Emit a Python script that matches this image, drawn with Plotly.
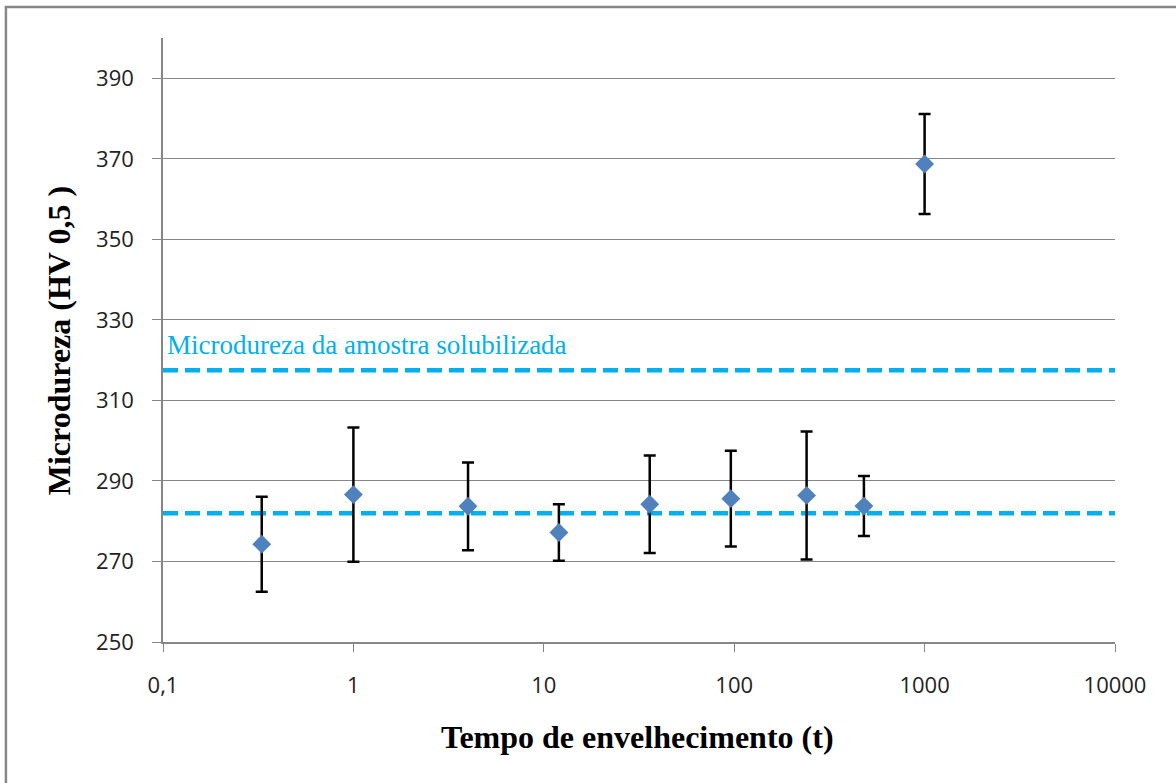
import plotly.graph_objects as go

# Data
tempo = [0.33, 1, 4, 12, 36, 96, 240, 480, 1000]
microdureza = [274.3, 286.6, 283.7, 277.2, 284.2, 285.6, 286.4, 283.75, 368.7]
erro = [11.8, 16.7, 10.9, 7.0, 12.1, 11.9, 15.9, 7.45, 12.4]

ref_x = [0.1, 10000]
ref_media = 282.0
ref_solubilizada = 317.5

x_tickvals = [0.1, 1, 10, 100, 1000, 10000]
x_ticktext = ["0,1", "1", "10", "100", "1000", "10000"]

serif = "Liberation Serif, Times New Roman, serif"
sans = "Open Sans, DejaVu Sans, sans-serif"
axis_gray = "#868686"
cyan = "#00B0F0"

fig = go.Figure()

for yv in [ref_media, ref_solubilizada]:
    fig.add_trace(go.Scatter(
        x=ref_x, y=[yv, yv], mode="lines",
        line=dict(color=cyan, width=4.5, dash="15px,7px"),
        hoverinfo="skip", showlegend=False, cliponaxis=False,
    ))

fig.add_trace(go.Scatter(
    x=tempo, y=microdureza, mode="markers",
    marker=dict(symbol="diamond", size=14.5, color="#4F81BD"),
    error_y=dict(type="data", array=erro, symmetric=True,
                 color="black", thickness=2.5, width=6),
    showlegend=False,
))

fig.update_layout(
    width=1176, height=783,
    margin=dict(l=163, r=61, t=38, b=141),
    paper_bgcolor="white", plot_bgcolor="white",
    separators=", ",
    font=dict(family=sans, size=22, color="#222222"),
    xaxis=dict(
        type="log", range=[-1, 4],
        tickvals=x_tickvals, ticktext=x_ticktext,
        showgrid=False, zeroline=False,
        showline=True, linecolor=axis_gray, linewidth=1.5,
        ticks="outside", ticklen=8, tickcolor=axis_gray, tickwidth=1,
        ticklabelstandoff=15,
        tickfont=dict(family=sans, size=22, color="#222222"),
    ),
    yaxis=dict(
        range=[250, 400], tick0=250, dtick=20,
        showgrid=True, gridcolor=axis_gray, gridwidth=1,
        zeroline=False,
        showline=True, linecolor=axis_gray, linewidth=1.5,
        ticks="outside", ticklen=9, tickcolor=axis_gray, tickwidth=1,
        ticklabelstandoff=14,
        tickfont=dict(family=sans, size=22, color="#222222"),
    ),
    annotations=[
        dict(text="Microdureza (HV 0,5 )", textangle=-90,
             xref="paper", yref="paper", x=-0.1092, y=0.498,
             xanchor="center", yanchor="middle", showarrow=False,
             font=dict(family=serif, size=32, color="black", weight="bold")),
        dict(text="Tempo de envelhecimento (t)",
             xref="paper", yref="paper", x=0.498, y=-0.157,
             xanchor="center", yanchor="middle", showarrow=False,
             font=dict(family=serif, size=32, color="black", weight="bold")),
        dict(text="Microdureza da amostra solubilizada",
             xref="paper", yref="y", x=0.002, y=323.7,
             xanchor="left", yanchor="middle", showarrow=False,
             font=dict(family=serif, size=27, color=cyan)),
    ],
    shapes=[
        dict(type="rect", xref="paper", yref="paper",
             x0=-0.165, x1=1.2, y0=-0.5, y1=1.0513,
             line=dict(color=axis_gray, width=2.5), layer="below"),
    ],
)

fig.write_html("out.html", config={"displayModeBar": False},
               post_script="document.body.style.margin='0px';")
